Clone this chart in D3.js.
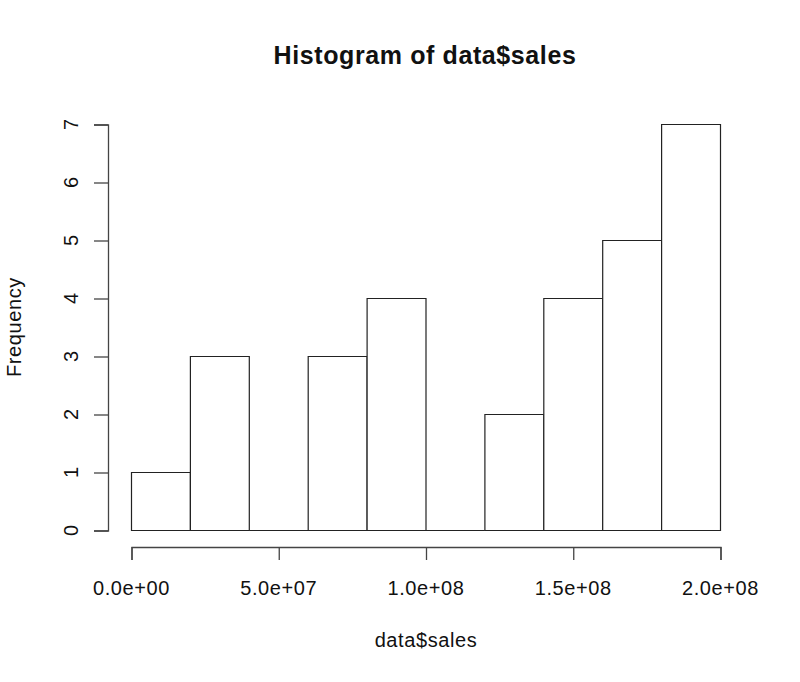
<!DOCTYPE html>
<html><head><meta charset="utf-8">
<script src="https://cdn.jsdelivr.net/npm/d3@7"></script>
<style>body{margin:0;background:#fff}text{font-family:"Liberation Sans",Arial,sans-serif;fill:#111}</style>
</head><body><svg id="c" width="800" height="682"></svg>
<script>
const binStarts = [0, 2e7, 4e7, 6e7, 8e7, 1e8, 1.2e8, 1.4e8, 1.6e8, 1.8e8];
const binWidth = 2e7;
const counts = [1, 3, 0, 3, 4, 0, 2, 4, 5, 7];
const xTicks = [0, 5e7, 1e8, 1.5e8, 2e8];
const xTickLabels = ["0.0e+00", "5.0e+07", "1.0e+08", "1.5e+08", "2.0e+08"];
const yTicks = [0, 1, 2, 3, 4, 5, 6, 7];

const svg = d3.select("#c");
const x = d3.scaleLinear().domain([0, 2e8]).range([131.5, 720.5]);
const y = d3.scaleLinear().domain([0, 7]).range([530.5, 124.5]);

svg.append("g").selectAll("path").data(binStarts).join("path")
  .attr("d", (d, i) => {
    const x0 = x(d), x1 = x(d + binWidth), y0 = y(0), y1 = y(counts[i]);
    return `M${x0},${y0}V${y1}H${x1}V${y0}Z`;
  })
  .attr("fill", "#fff").attr("stroke", "#222").attr("stroke-width", 1.2);

const xAxis = svg.append("g").attr("transform", "translate(0,547)")
  .call(d3.axisBottom(x).tickValues(xTicks).tickSize(13).tickPadding(0).tickFormat(""));
const yAxis = svg.append("g").attr("transform", "translate(108,0)")
  .call(d3.axisLeft(y).tickValues(yTicks).tickSize(14).tickFormat(""));
[xAxis, yAxis].forEach(g => {
  g.select(".domain").attr("stroke", "#444").attr("stroke-width", 1.3);
  g.selectAll(".tick line").attr("stroke", "#444").attr("stroke-width", 1.3);
});

svg.append("g").selectAll("text").data(xTicks).join("text")
  .attr("x", d => x(d)).attr("y", 595).attr("text-anchor", "middle")
  .style("font-size", "20px").style("letter-spacing", "0.6px")
  .text((d, i) => xTickLabels[i]);

svg.append("g").selectAll("text").data(yTicks).join("text")
  .attr("transform", d => `translate(78,${y(d)}) rotate(-90)`)
  .attr("text-anchor", "middle")
  .style("font-size", "20px").text(d => d);

svg.append("text").attr("x", 425).attr("y", 64).attr("text-anchor", "middle")
  .style("font-size", "25px").style("font-weight", "bold").style("letter-spacing", "0.6px")
  .text("Histogram of data$sales");

svg.append("text").attr("x", 426).attr("y", 647).attr("text-anchor", "middle")
  .style("font-size", "20px").style("letter-spacing", "0.6px").text("data$sales");

svg.append("text").attr("transform", "translate(21,327) rotate(-90)").attr("text-anchor", "middle")
  .style("font-size", "20px").style("letter-spacing", "0.6px").text("Frequency");
</script></body></html>
